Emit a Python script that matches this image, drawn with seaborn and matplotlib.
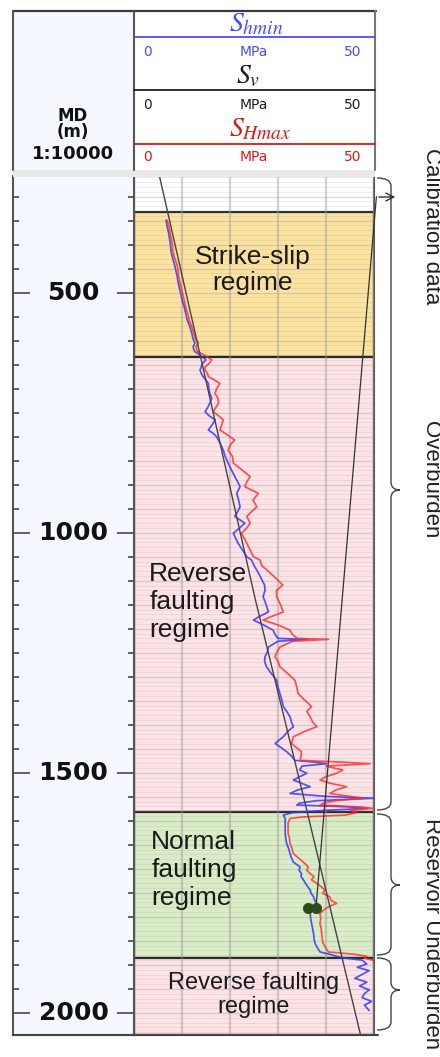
import numpy as np
import pandas as pd
import matplotlib
matplotlib.use("Agg")
import matplotlib.pyplot as plt
from matplotlib.path import Path
from matplotlib.patches import PathPatch, Rectangle
import seaborn as sns

sns.set_theme(style="white")
plt.rcParams["font.family"] = ["Liberation Sans", "DejaVu Sans"]
plt.rcParams["mathtext.fontset"] = "stix"

# ---------------- data ----------------
depth_ticks = [500, 1000, 1500, 2000]
depth_top, depth_bottom = 257, 2046
stress_max = 50

zone_tops = [331, 635, 1581, 1885]
zone_bottoms = [635, 1581, 1885, 2046]
zone_colors = ["#fbe29f", "#fde2e6", "#d9ecc6", "#fde2e6"]
zone_labels = ["Strike-slip\nregime", "Reverse\nfaulting\nregime",
               "Normal\nfaulting\nregime", "Reverse faulting\nregime"]

sv_depth = [257, 635, 1140, 1578, 2046]
sv_mpa = [5.3, 13.9, 25.3, 36.0, 47.2]

calib_depth = [300, 1782]
calib_mpa = [50.5, 37.9]
calib_pts_mpa = [36.3, 38.0]
calib_pts_depth = [1782, 1782]

log_depth = [
    349, 362, 375, 388, 400, 413, 426, 440, 453, 466, 479, 492, 505, 518, 531,
    544, 557, 570, 583, 596, 605, 613, 622, 632, 640, 648, 655, 661, 668, 675,
    682, 689, 700, 710, 720, 730, 740, 748, 756, 765, 775, 786, 793, 800, 807,
    815, 828, 841, 855, 869, 883, 894, 904, 918, 932, 946, 956, 966, 980, 990,
    1001, 1012, 1022, 1036, 1050, 1057, 1068, 1085, 1097, 1109, 1120, 1133,
    1149, 1165, 1175, 1182, 1192, 1203, 1212, 1220, 1222, 1226, 1238, 1248,
    1258, 1268, 1279, 1293, 1307, 1321, 1335, 1348, 1362, 1372, 1383, 1394,
    1404, 1414, 1425, 1432, 1439, 1447, 1456, 1465, 1474, 1478, 1481, 1486,
    1494, 1501, 1508, 1515, 1522, 1529, 1536, 1543, 1549, 1553, 1558, 1563,
    1567, 1571, 1574, 1578, 1583, 1588, 1592, 1595, 1605, 1626, 1636, 1647,
    1657, 1668, 1677, 1686, 1696, 1703, 1710, 1716, 1723, 1733, 1744, 1751,
    1758, 1765, 1772, 1779, 1786, 1793, 1803, 1814, 1824, 1834, 1845, 1855,
    1864, 1873, 1878, 1882, 1886, 1890, 1898, 1905, 1912, 1920, 1928, 1936,
    1944, 1952, 1960, 1968, 1976, 1984, 1995,
]
shmin_mpa = [
    6.7, 6.9, 7.2, 7.4, 7.6, 7.7, 8.0, 8.4, 8.7, 9.0, 9.2, 9.5, 9.8, 10.1, 10.5,
    10.8, 11.1, 11.6, 12.0, 12.3, 12.7, 12.3, 12.6, 14.0, 15.0, 14.2, 14.0, 13.75, 14.0, 14.4,
    15.0, 15.5, 15.6, 15.8, 16.2, 15.8, 15.3, 14.8, 15.6, 16.9, 16.3, 15.5, 16.5, 17.2, 17.6,
    18.0, 18.6, 19.0, 19.6, 20.3, 21.0, 21.6, 22.1, 21.4, 21.8, 22.1, 21.6, 21.0, 23.1, 22.0,
    20.7, 21.2, 21.7, 22.6, 23.5, 24.5, 25.0, 26.0, 26.6, 27.2, 27.3, 26.9,
    27.5, 28.0, 26.0, 24.9, 27.0, 29.0, 29.4, 30.0, 36.0, 30.0, 28.0, 27.8,
    27.3, 27.2, 27.6, 28.6, 29.7, 30.0, 30.4, 30.8, 31.1, 31.8, 32.5, 32.8,
    33.2, 32.0, 31.1, 30.2, 29.4, 30.6, 31.8, 32.8, 33.5, 38.0, 40.1, 35.0,
    34.5, 36.0, 34.5, 33.2, 35.0, 36.7, 34.0, 32.5, 40.0, 49.9, 38.0, 34.5,
    33.9, 45.0, 48.5, 40.0, 33.0, 31.1, 31.3, 31.5, 31.5, 31.5, 31.6, 31.8,
    32.2, 32.5, 32.8, 33.2, 34.6, 34.4, 34.9, 34.8, 35.3, 35.9, 36.7, 36.9,
    37.4, 37.6, 38.1, 37.6, 37.0, 36.7, 36.8, 37.0, 37.2, 37.4, 37.5, 37.7,
    38.2, 38.75, 40.8, 42.2, 44.0, 47.5, 48.5, 46.5, 49.0, 47.5, 46.0, 48.5,
    47.0, 49.0, 48.0, 47.5, 49.5, 48.0, 49.0,
]
shmax_mpa = [
    6.9, 7.3, 7.5, 7.8, 8.0, 8.1, 8.4, 8.9, 9.2, 9.3, 9.6, 9.9, 10.2, 10.5, 10.8,
    11.2, 11.5, 12.0, 12.4, 12.8, 13.4, 12.9, 13.2, 15.0, 16.2, 15.6, 14.8, 14.8, 15.3, 15.5,
    16.8, 17.9, 17.2, 16.9, 17.5, 17.6, 17.0, 16.5, 17.6, 18.6, 18.3, 17.9, 19.0, 20.0, 21.0,
    20.2, 19.6, 20.5, 20.7, 22.5, 24.2, 23.5, 23.1, 25.9, 24.8, 25.6, 24.5, 23.5, 24.2, 23.5,
    22.4, 23.0, 23.5, 24.2, 24.9, 26.25, 26.6, 28.5, 29.8, 31.0, 29.7, 29.7,
    30.5, 31.1, 28.5, 26.9, 30.0, 32.5, 33.0, 34.0, 40.5, 33.0, 30.4, 29.8,
    29.4, 30.0, 30.4, 32.0, 33.5, 33.9, 34.2, 35.5, 37.0, 36.0, 36.7, 37.2,
    38.1, 35.5, 33.2, 33.0, 32.8, 33.8, 34.9, 34.8, 34.6, 44.0, 49.2, 40.0,
    43.5, 42.2, 40.0, 38.75, 41.0, 44.3, 42.0, 40.8, 45.0, 47.8, 42.0, 39.5,
    38.75, 47.0, 49.8, 45.0, 46.4, 44.0, 35.0, 32.5, 32.1, 32.1, 32.4, 32.5,
    32.9, 33.2, 34.2, 35.3, 36.3, 36.0, 36.7, 37.5, 37.0, 38.5, 39.8, 39.3,
    40.8, 41.0, 42.2, 40.5, 39.5, 38.75, 38.9, 38.75, 39.0, 39.1, 39.2, 39.4,
    39.9, 40.5, 46.0, 48.5, 48.0, 49.8, 50.5, 50.5, 50.5, 50.5, 50.5, 50.5,
    50.5, 50.5, 50.5, 50.5, 50.5, 50.5, 50.5,
]

logs = pd.DataFrame({"depth": log_depth, "shmin": shmin_mpa, "shmax": shmax_mpa})

# ---------------- figure layout (pixel based) ----------------
W, H = 440, 1057
fig = plt.figure(figsize=(W / 100, H / 100), dpi=100)
fig.patch.set_facecolor("white")


def box(x0, y0, x1, y1):
    return [x0 / W, 1 - y1 / H, (x1 - x0) / W, (y1 - y0) / H]


TRACK_TOP, TRACK_BOT = 176, 1035
ax = fig.add_axes(box(134, TRACK_TOP, 374, TRACK_BOT))
axd = fig.add_axes(box(13, TRACK_TOP, 134, TRACK_BOT))
ov = fig.add_axes([0, 0, 1, 1], zorder=10)
ov.set_xlim(0, W)
ov.set_ylim(H, 0)
ov.axis("off")
ov.patch.set_alpha(0)

edge = "#3a3a3a"

# ---------------- depth column ----------------
axd.set_facecolor("#f5f9ff")
axd.set_ylim(depth_bottom, depth_top)
axd.set_xlim(0, 1)
axd.set_xticks([])
axd.set_yticks(depth_ticks)
axd.set_yticks(np.arange(300, 2001, 50), minor=True)
axd.tick_params(axis="y", which="both", direction="in", left=True, right=True,
                labelleft=False, color="#555555", width=1.3)
axd.tick_params(axis="y", which="major", length=12)
axd.tick_params(axis="y", which="minor", length=4.5)
for s in ["left", "right", "bottom"]:
    axd.spines[s].set_color("#555555")
    axd.spines[s].set_linewidth(1.5)
axd.spines["top"].set_visible(False)
for d in depth_ticks:
    axd.text(0.5, d, f"{d}", ha="center", va="center", fontsize=18,
             fontweight="bold", family="DejaVu Sans", color="#111111")

# ---------------- main track ----------------
ax.set_xlim(0, stress_max)
ax.set_ylim(depth_bottom, depth_top)
ax.set_facecolor("white")
for top, bot, col in zip(zone_tops, zone_bottoms, zone_colors):
    ax.axhspan(top, bot, xmin=0, xmax=1.0, facecolor=col, edgecolor="#2a2a2a",
               linewidth=1.6, zorder=1)

ax.set_xticks(np.arange(0, stress_max + 1, 10))
ax.set_yticks(np.arange(300, 2001, 50))
ax.set_yticks(np.arange(260, 2041, 10), minor=True)
ax.grid(True, which="major", axis="x", color="#9a9a9a", alpha=0.45, linewidth=1.6)
ax.grid(True, which="major", axis="y", color="#9a9a9a", alpha=0.35, linewidth=1.0)
ax.grid(True, which="minor", axis="y", color="#9a9a9a", alpha=0.17, linewidth=0.7)
ax.set_axisbelow(False)
ax.tick_params(which="both", length=0, labelbottom=False, labelleft=False)
for s in ax.spines.values():
    s.set_color("#555555")
    s.set_linewidth(1.5)
ax.spines["top"].set_visible(False)

# stress logs
sns.lineplot(data=logs, x="shmin", y="depth", sort=False, estimator=None, ax=ax,
             color="#3636ff", linewidth=1.25, alpha=0.85, zorder=3)
sns.lineplot(data=logs, x="shmax", y="depth", sort=False, estimator=None, ax=ax,
             color="#ff2a2a", linewidth=1.25, alpha=0.8, zorder=3)
sns.lineplot(x=sv_mpa, y=sv_depth, sort=False, estimator=None, ax=ax,
             color="#444444", linewidth=1.0, zorder=4)
sns.lineplot(x=calib_mpa, y=calib_depth, sort=False, estimator=None, ax=ax,
             color="#333333", linewidth=0.9, zorder=4)
ax.lines[-1].set_clip_on(False)
sns.scatterplot(x=calib_pts_mpa, y=calib_pts_depth, ax=ax, color="#2c4a1c",
                s=55, edgecolor="#2c4a1c", zorder=5)
ax.set_xlabel("")
ax.set_ylabel("")

# regime labels
ax.text(24.7, 453, zone_labels[0], ha="center", va="center", fontsize=19,
        linespacing=1.1, color="#1a1a1a", zorder=6)
ax.text(3.2, 1144, zone_labels[1], ha="left", va="center", fontsize=19,
        linespacing=1.22, color="#1a1a1a", zorder=6)
ax.text(3.6, 1703, zone_labels[2], ha="left", va="center", fontsize=19,
        linespacing=1.22, color="#1a1a1a", zorder=6)
ax.text(25.0, 1963, zone_labels[3], ha="center", va="center", fontsize=17,
        linespacing=1.15, color="#1a1a1a", zorder=6)

# ---------------- header ----------------
ov.add_patch(Rectangle((13, 11), 121, 159, facecolor="#f5f9ff", edgecolor="none"))
ov.add_patch(Rectangle((13, 170), 362, 7, facecolor="#e8e8e8", edgecolor="none"))
ov.plot([13, 376], [11, 11], color=edge, lw=1.6)
ov.plot([13, 13], [11, 170], color="#555555", lw=1.5)
ov.plot([134, 134], [11, 170], color="#555555", lw=1.5)
ov.plot([375, 375], [11, 170], color="#777777", lw=1.5)

ov.text(73, 116, "MD", ha="center", va="center", fontsize=12, fontweight="bold",
        family="DejaVu Sans", color="#111111")
ov.text(73, 132, "(m)", ha="center", va="center", fontsize=12, fontweight="bold",
        family="DejaVu Sans", color="#111111")
ov.text(73, 154, "1:10000", ha="center", va="center", fontsize=13, fontweight="bold",
        family="DejaVu Sans", color="#111111")

curves = [("$S_{hmin}$", "#4b4bff", 24, 37, 52, 256),
          ("$S_{v}$", "#1e1e1e", 76, 90, 105, 248),
          ("$S_{Hmax}$", "#e01818", 129, 144, 157, 260)]
for name, col, ty, ly, sy, tx in curves:
    ov.text(tx, ty, name, ha="center", va="center", fontsize=20, color=col)
    ov.plot([134, 375], [ly, ly], color=col, lw=1.3)
    ov.text(147, sy, "0", ha="center", va="center", fontsize=10, color=col,
            family="DejaVu Sans")
    ov.text(254, sy, "MPa", ha="center", va="center", fontsize=10, color=col,
            family="DejaVu Sans")
    ov.text(353, sy, "50", ha="center", va="center", fontsize=10, color=col,
            family="DejaVu Sans")

# ---------------- right-hand braces and labels ----------------
def brace(y0, y1, ytip, x0=377, x1=391, xt=400, r=8):
    verts = [(x0, y0), (x1, y0), (x1, y0 + r),
             (x1, ytip - r), (x1, ytip), (xt, ytip),
             (x1, ytip), (x1, ytip + r),
             (x1, y1 - r), (x1, y1), (x0, y1)]
    codes = [Path.MOVETO, Path.CURVE3, Path.CURVE3,
             Path.LINETO, Path.CURVE3, Path.CURVE3,
             Path.CURVE3, Path.CURVE3,
             Path.LINETO, Path.CURVE3, Path.CURVE3]
    ov.add_patch(PathPatch(Path(verts, codes), facecolor="none",
                           edgecolor="#444444", lw=1.0))


brace(178, 810, 490)
brace(814, 955, 885)
brace(958, 1030, 990)

ov.annotate("", xy=(398, 197), xytext=(376, 197),
            arrowprops=dict(arrowstyle="->", color="#333333", lw=1.0,
                            mutation_scale=14))

ov.text(431, 148, "Calibration data", rotation=-90, ha="center", va="top",
        fontsize=16, color="#222222")
ov.text(431, 480, "Overburden", rotation=-90, ha="center", va="center",
        fontsize=16, color="#222222")
ov.text(431, 818, "Reservoir Underburden", rotation=-90, ha="center", va="top",
        fontsize=16, color="#222222")

ov.plot([13, 378], [1035, 1035], color="#444444", lw=1.5)

fig.savefig("out.png", dpi=100)
